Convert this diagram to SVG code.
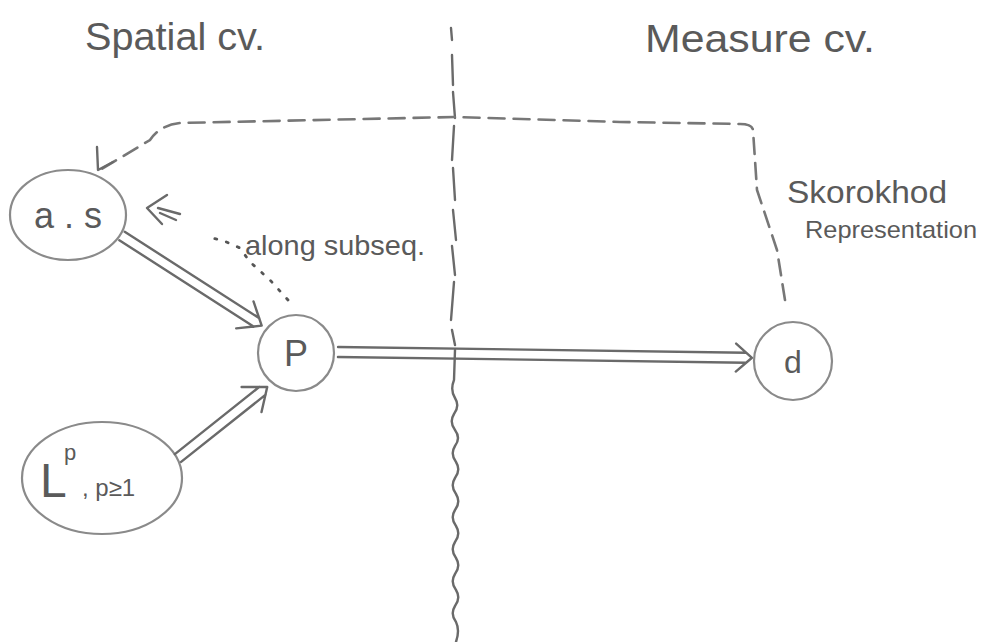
<svg xmlns="http://www.w3.org/2000/svg" width="984" height="642" viewBox="0 0 984 642">
<style>
.ink{fill:none;stroke:#6a6a6a;stroke-width:2.4;stroke-linecap:round;stroke-linejoin:round}
.node{fill:none;stroke:#8a8a8a;stroke-width:2.2}
.t{fill:#5a5a5a;font-family:"Liberation Sans","DejaVu Sans",sans-serif}
.dash{fill:none;stroke:#777;stroke-width:2.6;stroke-linecap:round;stroke-dasharray:16 9}
.dot{fill:none;stroke:#555;stroke-width:2.8;stroke-linecap:round;stroke-dasharray:2 10}
</style>
<rect width="984" height="642" fill="#fff"/>
<g id="titles">
<text class="t" x="85" y="50" font-size="38" textLength="180" lengthAdjust="spacingAndGlyphs">Spatial cv.</text>
<text class="t" x="645" y="52" font-size="38" textLength="230" lengthAdjust="spacingAndGlyphs">Measure cv.</text>
</g>
<g id="divider">
<path class="ink" stroke="#666" stroke-width="3" d="M451,28 L452,40 M452,55 L453,85 M453,92 L455,118 M454,126 L452,160 M453,168 L455,200 M453,210 L456,240 M452,246 L455,275 M454,282 L451,320 M452,330 L455,345"/>
<path class="ink" stroke="#777" stroke-width="2.6" d="M455,350 L454,380 Q450,390 455,398 Q460,406 454,414 Q449,422 455,430 Q461,438 455,446 Q450,454 456,462 Q461,470 455,478 Q450,486 456,494 Q461,502 455,510 Q450,518 456,526 Q461,534 455,542 Q450,550 456,558 Q461,566 455,574 Q450,582 456,590 Q461,598 455,606 Q450,614 456,622 Q460,630 456,642"/>
</g>
<g id="node-as">
<ellipse class="node" cx="68" cy="215" rx="58" ry="45"/>
<text class="t" x="68" y="228" font-size="36" text-anchor="middle">a . s</text>
</g>
<g id="node-P">
<circle class="node" cx="296" cy="353" r="38"/>
<text class="t" x="296" y="366" font-size="36" text-anchor="middle">P</text>
</g>
<g id="node-L">
<ellipse class="node" cx="102" cy="478" rx="80" ry="56"/>
<text class="t" x="40" y="497" font-size="48">L</text>
<text class="t" x="64" y="460" font-size="22">p</text>
<text class="t" x="82" y="496" font-size="24">, p≥1</text>
</g>
<g id="node-d">
<circle class="node" cx="793" cy="361" r="39"/>
<text class="t" x="793" y="373" font-size="32" text-anchor="middle">d</text>
</g>
<g id="labels">
<text class="t" x="245" y="255" font-size="28" textLength="180" lengthAdjust="spacingAndGlyphs">along subseq.</text>
<text class="t" x="787" y="203" font-size="32" textLength="160" lengthAdjust="spacingAndGlyphs">Skorokhod</text>
<text class="t" x="805" y="238" font-size="24" textLength="172" lengthAdjust="spacingAndGlyphs">Representation</text>
</g>
<g id="connectors">
<g transform="translate(122,236) rotate(32.7)">
<path class="ink" d="M0,-5 L160,-5 M0,5 L160,5 M146,-16 L166,0 L146,16"/>
</g>
<g transform="translate(178,458) rotate(-38.5)">
<path class="ink" d="M0,-5 L108,-5 M0,5 L108,5 M94,-16 L114,0 L94,16"/>
</g>
<g transform="translate(338,352) rotate(0.8)">
<path class="ink" d="M0,-5 L408,-5 M0,5 L408,5 M398,-14 L414,0 L398,14"/>
</g>
<path class="dash" d="M785,300 L777,250 L757,190 L753,130 Q752,124 740,124 L620,122 L455,117 L180,123 Q160,125 150,140 L100,170"/>
<path class="ink" d="M97,147 L98,170 L113,162"/>
<path class="dot" d="M288,300 L270,280 L250,262 L240,248 L222,240 L205,237"/>
<path class="ink" d="M167,195 L147,208 L162,224"/>
<path class="ink" stroke="#bbb" stroke-width="1.8" d="M158,208 L180,214 M160,213 L176,220"/>
</g>
</svg>
